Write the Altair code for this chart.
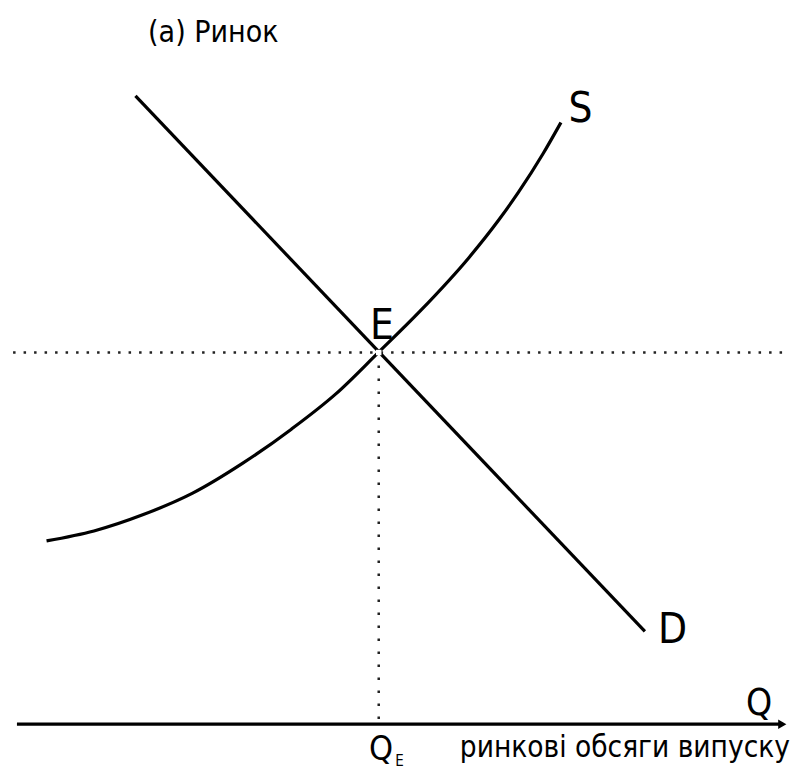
import altair as alt
import pandas as pd

# ---- data (abstract quantity Q / price P units) ----
demand_q = [15.33, 81.23]
demand_p = [90.1, 13.3]

supply_q = [3.83, 9.96, 16.35, 22.73, 29.12, 35.50, 41.25, 46.74, 52.11, 58.49, 62.32, 64.88, 68.07, 70.37]
supply_p = [26.29, 27.71, 30.06, 33.13, 37.36, 42.31, 47.37, 53.29, 59.19, 66.94, 72.30, 76.29, 81.84, 86.29]

eq_q = 46.8
eq_p = 53.3

axis_q = [0.0, 99.0]
axis_p = [0.0, 0.0]

hline_q = [-0.5, 100.0]

label_text = ["(a) Ринок", "S", "D", "E", "Q", "Q", "E"]
label_q = [25.4, 72.9, 84.8, 47.2, 96.0, 47.1, 49.5]
label_p = [97.9, 86.4, 11.7, 55.3, 1.3, -5.1, -6.0]
label_size = [30, 42, 42, 42, 37, 34, 15]

sub_text = "ринкові обсяги випуску"
sub_q = 100.0
sub_p = -4.7
sub_size = 29.5

FONT = "Liberation Sans Narrow, Arial Narrow, DejaVu Sans Condensed, Liberation Sans, sans-serif"

xs = alt.Scale(domain=[-0.51, 100], nice=False, zero=False)
ys = alt.Scale(domain=[-6.14, 102.71], nice=False, zero=False)


def X(field="q"):
    return alt.X(f"{field}:Q", scale=xs, axis=None)


def Y(field="p"):
    return alt.Y(f"{field}:Q", scale=ys, axis=None)


demand_df = pd.DataFrame({"q": demand_q, "p": demand_p})
supply_df = pd.DataFrame({"q": supply_q, "p": supply_p})
hline_df = pd.DataFrame({"q": hline_q, "p": [eq_p, eq_p]})
vline_df = pd.DataFrame({"q": [eq_q, eq_q], "p": [eq_p, 0.0]})
axis_df = pd.DataFrame({"q": axis_q, "p": axis_p})
arrow_df = pd.DataFrame({"q": [axis_q[1]], "p": [0.0]})
eq_df = pd.DataFrame({"q": [eq_q], "p": [eq_p]})
labels_df = pd.DataFrame({"t": label_text, "q": label_q, "p": label_p, "s": label_size})
sub_df = pd.DataFrame({"t": [sub_text], "q": [sub_q], "p": [sub_p]})

hline = alt.Chart(hline_df).mark_line(color="#222", strokeWidth=2.5, strokeDash=[2.5, 8]).encode(x=X(), y=Y())
vline = alt.Chart(vline_df).mark_line(color="#222", strokeWidth=2.5, strokeDash=[2.5, 10.5]).encode(x=X(), y=Y())
demand = alt.Chart(demand_df).mark_line(color="black", strokeWidth=3.2).encode(x=X(), y=Y())
supply = alt.Chart(supply_df).mark_line(color="black", strokeWidth=3.2, interpolate="monotone").encode(
    x=X(), y=Y(), order=alt.Order("q:Q"))
axis_line = alt.Chart(axis_df).mark_line(color="black", strokeWidth=3.2).encode(x=X(), y=Y())
arrow = alt.Chart(arrow_df).mark_point(shape="triangle-right", filled=True, color="black", size=90, opacity=1).encode(
    x=X(), y=Y())
eq_pt = alt.Chart(eq_df).mark_point(shape="square", filled=True, color="white", size=30, opacity=1).encode(
    x=X(), y=Y())
labels = alt.Chart(labels_df).mark_text(font=FONT, color="black", align="center", baseline="alphabetic").encode(
    x=X(), y=Y(), text="t:N", size=alt.Size("s:Q", scale=None, legend=None))
sub_label = alt.Chart(sub_df).mark_text(font=FONT, color="black", align="right", baseline="alphabetic",
                                        fontSize=sub_size).encode(x=X(), y=Y(), text="t:N")

chart = alt.layer(hline, vline, demand, supply, axis_line, arrow, eq_pt, labels, sub_label).properties(
    width=787, height=762,
    autosize=alt.AutoSizeParams(type="fit", contains="padding"),
    padding=0,
    background="white",
).configure_view(stroke=None)

chart.save("out.html", embed_options={"renderer": "svg", "actions": False})
